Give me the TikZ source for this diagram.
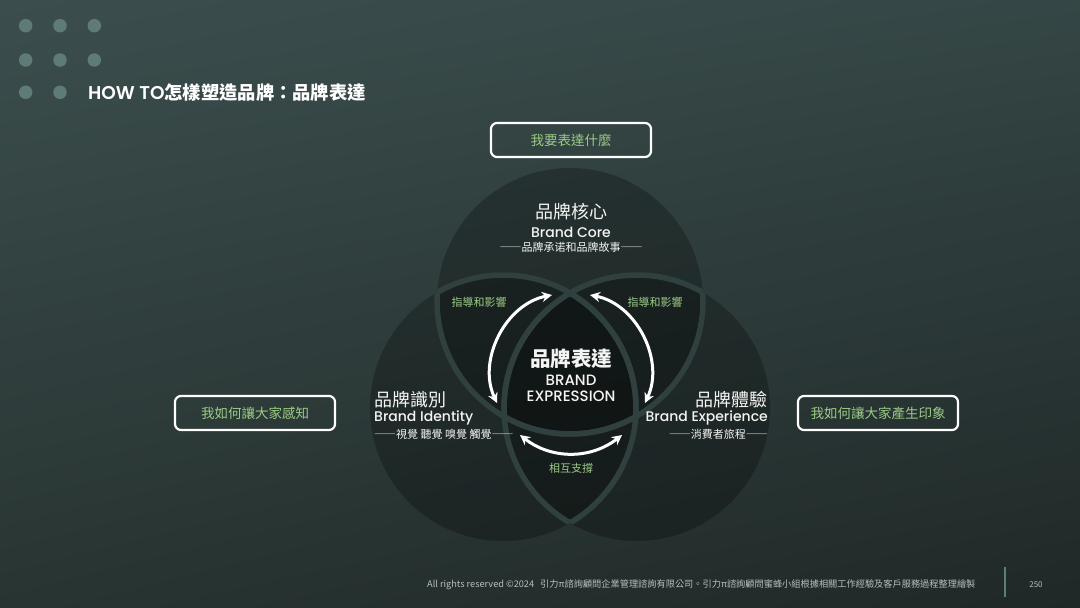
\documentclass[tikz,border=0pt]{standalone}
\usepackage{fontspec}
\setmainfont{Noto Sans CJK TC}
\newfontfamily\cjk{Noto Sans CJK TC}
\newfontfamily\cjkfw{Noto Sans CJK TC}[RawFeature=+fwid]
\newfontfamily\pop{Poppins}[UprightFont={* Medium}, BoldFont={* SemiBold}]
\usetikzlibrary{arrows.meta, positioning, shadings}

\definecolor{bgA}{HTML}{3B4E4D}
\definecolor{bgB}{HTML}{344645}
\definecolor{bgC}{HTML}{283432}
\definecolor{bgD}{HTML}{1F2827}
\definecolor{bandc}{HTML}{2F403E}
\definecolor{dotc}{HTML}{5F7B77}
\definecolor{leaf}{HTML}{9CCB86}
\definecolor{snow}{HTML}{F4F4F2}
\definecolor{foot}{HTML}{B7BFBC}
\definecolor{rule}{HTML}{5B7E78}

\newcommand\fsz[1]{\fontsize{#1}{#1}\selectfont}
\newcommand\dsh{{\cjkfw ——}}

\begin{document}
\begin{tikzpicture}[x=1pt, y=-1pt,
  lobe/.style={fill=black, fill opacity=0.25},
  band/.style={draw=bandc, line width=5.5pt},
  ring/.style={circle, inner sep=0pt, minimum size=266pt},
  qbox/.style={rectangle, draw=white, line width=2.2pt, rounded corners=6pt,
    minimum width=160pt, minimum height=34pt, inner sep=0pt,
    text=leaf, font=\cjk\fsz{13.5}},
  zh/.style={inner sep=0pt, text=snow, font=\cjk\fsz{18}},
  en/.style={inner sep=0pt, text=snow, font=\pop\fsz{14}},
  sub/.style={inner sep=0pt, text=snow, font=\cjk\fsz{11}},
  note/.style={inner sep=0pt, text=leaf, font=\cjk\fsz{11}},
  arrow/.style={{Stealth[length=10pt, width=10pt]}-{Stealth[length=10pt, width=10pt]},
    line width=3pt, white},
  dot/.style={circle, fill=dotc, inner sep=0pt, minimum size=13.5pt}
]
  \useasboundingbox (0,0) rectangle (1080,608);
  \shade[upper left=bgA, upper right=bgB, lower left=bgC, lower right=bgD]
    (0,0) rectangle (1080,608);

  % corner dots
  \foreach \i/\x in {1/25.7, 2/60, 3/94.3}
    \foreach \j/\y in {1/25.7, 2/60}
      \node[dot] (d\i\j) at (\x,\y) {};
  \node[dot] (d13) at (25.7,92.3) {};
  \node[dot] (d23) at (60,92.3) {};

  \node[anchor=west, inner sep=0pt, text=white] (title) at (88,92.5)
    {{\pop\bfseries\fsz{18.5}HOW TO}{\cjk\bfseries\fsz{18.3}怎樣塑造品牌：品牌表達}};

  % three circles
  \node[ring] (core) at (570,301) {};
  \node[ring] (ident) at (503,408) {};
  \node[ring] (exper) at (637,408) {};
  \foreach \c in {core, ident, exper}
    \fill[lobe] (\c.center) circle (133);
  \foreach \a/\b in {core/ident, core/exper, ident/core, ident/exper, exper/core, exper/ident}{
    \begin{scope}
      \clip (\b.center) circle (133);
      \draw[band] (\a.center) circle (133);
    \end{scope}
  }

  % labels
  \node[zh] (coreZh) at (571,212) {品牌核心};
  \node[en] (coreEn) at (571,232) {Brand Core};
  \node[sub] (coreSub) at (571,247) {\dsh 品牌承诺和品牌故事\dsh};

  \node[zh, anchor=west] (idZh) at (374,400) {品牌識別};
  \node[en, anchor=west] (idEn) at (374,418) {Brand Identity};
  \node[sub, anchor=west] (idSub) at (374,434) {\dsh 視覺 聽覺 嗅覺 觸覺\dsh};

  \node[zh, anchor=east] (exZh) at (768,400) {品牌體驗};
  \node[en, anchor=east] (exEn) at (768,418) {Brand Experience};
  \node[sub, anchor=east] (exSub) at (768,434) {\dsh 消費者旅程\dsh};

  \node[zh, font=\cjk\bfseries\fsz{20.5}] (midZh) at (571,359) {品牌表達};
  \node[en, font=\pop\fsz{15}] (midEn1) at (571,380) {BRAND};
  \node[en, font=\pop\fsz{15}] (midEn2) at (571,396) {EXPRESSION};

  \node[note] (nl) at (479,302) {指導和影響};
  \node[note] (nr) at (655,302) {指導和影響};
  \node[note] (nb) at (571,468) {相互支撐};

  % arrows
  \coordinate (a1) at (552,295);
  \coordinate (a2) at (497,403);
  \coordinate (b1) at (590,295);
  \coordinate (b2) at (645,403);
  \coordinate (c1) at (520,435);
  \coordinate (c2) at (622,435);
  \draw[arrow] (a1) to[bend right=52] (a2);
  \draw[arrow] (b1) to[bend left=52] (b2);
  \draw[arrow] (c1) to[bend right=38] (c2);

  % question boxes
  \node[qbox] (what) at (571,140) {我要表達什麼};
  \node[qbox] (sense) at (255,413) {我如何讓大家感知};
  \node[qbox] (mark) at (878,413) {我如何讓大家產生印象};

  % footer
  \node[anchor=west, inner sep=0pt, text=foot, font=\cjk\fsz{9.2}] (note) at (427,585)
    {All rights reserved ©2024\hspace{6pt}引力π諮詢顧問企業管理諮詢有限公司。引力π諮詢顧問蜜蜂小組根據相關工作經驗及客戶服務過程整理繪製};
  \draw[rule, line width=2pt] (1005,567) -- (1005,597);
  \node[inner sep=0pt, text=foot, font=\cjk\fsz{8}] (page) at (1036,585) {250};
\end{tikzpicture}
\end{document}
